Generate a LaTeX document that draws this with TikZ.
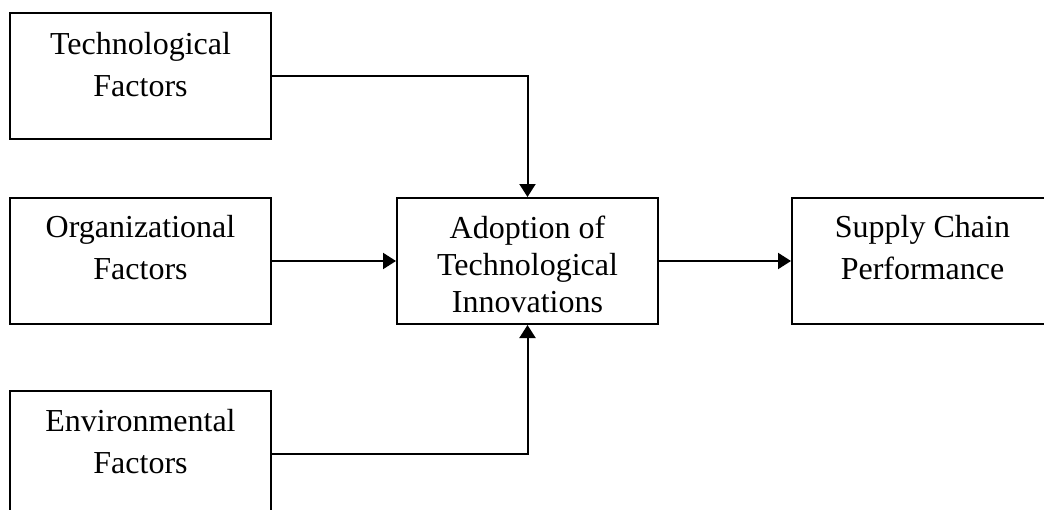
\documentclass[tikz,border=0pt]{standalone}
\usepackage{fontspec}
\setmainfont{Liberation Serif}
\usetikzlibrary{arrows.meta,calc}
\begin{document}
\begin{tikzpicture}[x=1pt,y=-1pt,
  box/.style={draw=black,line width=2pt,minimum width=261pt,minimum height=126pt,inner sep=0pt},
  txt/.style={font=\fontsize{32}{42}\selectfont,align=center,anchor=base,inner sep=0pt},
  txtb/.style={font=\fontsize{32}{37}\selectfont,align=center,anchor=base,inner sep=0pt},
  link/.style={line width=2pt,-{Triangle[length=13pt,width=16pt]}}]
\clip (0,0) rectangle (1044,509);
\fill[white] (0,0) rectangle (1044,509);
% factor boxes on the left
\node[box] (tech) at (140.5,76) {};
\node[box] (org) at (140.5,261) {};
\node[box] (env) at (140.5,454) {};
% central and outcome boxes
\node[box] (adopt) at (527.5,261) {};
\node[box] (supply) at (922.5,261) {};
% box texts (anchored at the baseline of the last line)
\node[txt] (techtxt) at ($(tech.north)+(0,84)$) {Technological\\Factors};
\node[txt] (orgtxt) at ($(org.north)+(0,82)$) {Organizational\\Factors};
\node[txt] (envtxt) at ($(env.north)+(0,83)$) {Environmental\\Factors};
\node[txtb] (adopttxt) at ($(adopt.north)+(0,115)$) {Adoption of\\Technological\\Innovations};
\node[txt] (supplytxt) at ($(supply.north)+(0,82)$) {Supply Chain\\Performance};
% connectors
\draw[link] (tech.east) -| (adopt.north);
\draw[link] (env.east) -| (adopt.south);
\draw[link] (org.east) -- (adopt.west);
\draw[link] (adopt.east) -- (supply.west);
\end{tikzpicture}
\end{document}
